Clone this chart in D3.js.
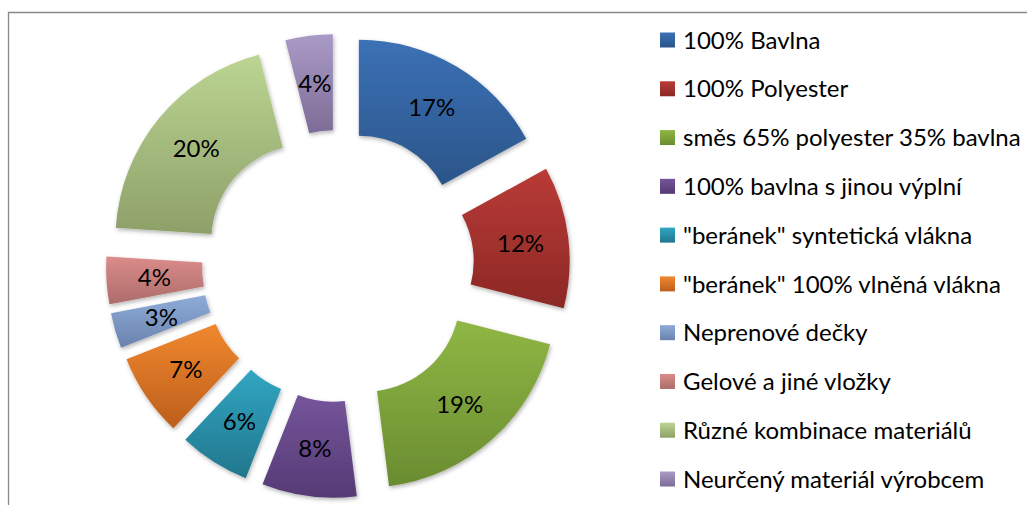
<!DOCTYPE html>
<html>
<head>
<meta charset="utf-8">
<script src="https://cdn.jsdelivr.net/npm/d3@7"></script>
<style>
  body { margin: 0; background: #fff; }
  text { font-family: Lato, "Open Sans", sans-serif; }
</style>
</head>
<body>
<svg id="chart" width="1027" height="505"></svg>
<script>
// data
const categories = ["100% Bavlna", "100% Polyester", "směs 65% polyester 35% bavlna",
  "100% bavlna s jinou výplní", "\"beránek\" syntetická vlákna", "\"beránek\" 100% vlněná vlákna",
  "Neprenové dečky", "Gelové a jiné vložky", "Různé kombinace materiálů", "Neurčený materiál výrobcem"];
const values = [17, 12, 19, 8, 6, 7, 3, 4, 20, 4];
const topColors = ["#3b71b6", "#b93b37", "#8fb744", "#75559a", "#31a6c2", "#f0882f",
  "#8eabd8", "#db8c8a", "#bcd592", "#aa9ac6"];
const bottomColors = ["#2b5589", "#8c2825", "#6a8c31", "#553a75", "#22768d", "#bd5e1b",
  "#6983ad", "#ac6c6a", "#8da069", "#7c6c96"];

const svg = d3.select("#chart");
const cx = 338, cy = 266, outerR = 191, innerR = 95, explode = 41;

const defs = svg.append("defs");
const shadow = defs.append("filter").attr("id", "shadow")
  .attr("x", "-20%").attr("y", "-20%").attr("width", "140%").attr("height", "140%");
shadow.append("feDropShadow").attr("dx", 1).attr("dy", 2).attr("stdDeviation", 2)
  .attr("flood-color", "#000").attr("flood-opacity", 0.3);

categories.forEach((c, i) => {
  const g = defs.append("linearGradient").attr("id", "grad" + i)
    .attr("x1", 0).attr("y1", 0).attr("x2", 0).attr("y2", 1);
  g.append("stop").attr("offset", "0%").attr("stop-color", topColors[i]);
  g.append("stop").attr("offset", "100%").attr("stop-color", bottomColors[i]);
});

// frame
svg.append("path")
  .attr("d", "M8.5,505 L8.5,12.5 L1027,12.5")
  .attr("fill", "none").attr("stroke", "#888").attr("stroke-width", 1.3);

const pie = d3.pie().sort(null).value(d => d);
const arcs = pie(values);
const arc = d3.arc().innerRadius(innerR).outerRadius(outerR);

const slice = svg.append("g")
  .selectAll("g")
  .data(arcs)
  .join("g")
  .attr("transform", d => {
    const mid = (d.startAngle + d.endAngle) / 2;
    return "translate(" + (cx + explode * Math.sin(mid)) + "," + (cy - explode * Math.cos(mid)) + ")";
  });

slice.append("path")
  .attr("d", arc)
  .attr("fill", (d, i) => "url(#grad" + i + ")")
  .attr("filter", "url(#shadow)");

slice.append("text")
  .attr("transform", d => "translate(" + arc.centroid(d) + ")")
  .attr("text-anchor", "middle")
  .attr("dy", "0.36em")
  .attr("font-size", 24)
  .attr("fill", "#000")
  .text(d => d.data + "%");

// legend
const legendY = d3.scalePoint().domain(categories).range([40, 479]);
const legend = svg.append("g")
  .selectAll("g")
  .data(categories)
  .join("g")
  .attr("transform", d => "translate(660," + legendY(d) + ")");

legend.append("rect")
  .attr("x", 0).attr("y", -7.5).attr("width", 15).attr("height", 15)
  .attr("fill", (d, i) => "url(#grad" + i + ")");

legend.append("text")
  .attr("x", 23)
  .attr("dy", "0.36em")
  .attr("font-size", 24)
  .attr("fill", "#000")
  .text(d => d);
</script>
</body>
</html>
